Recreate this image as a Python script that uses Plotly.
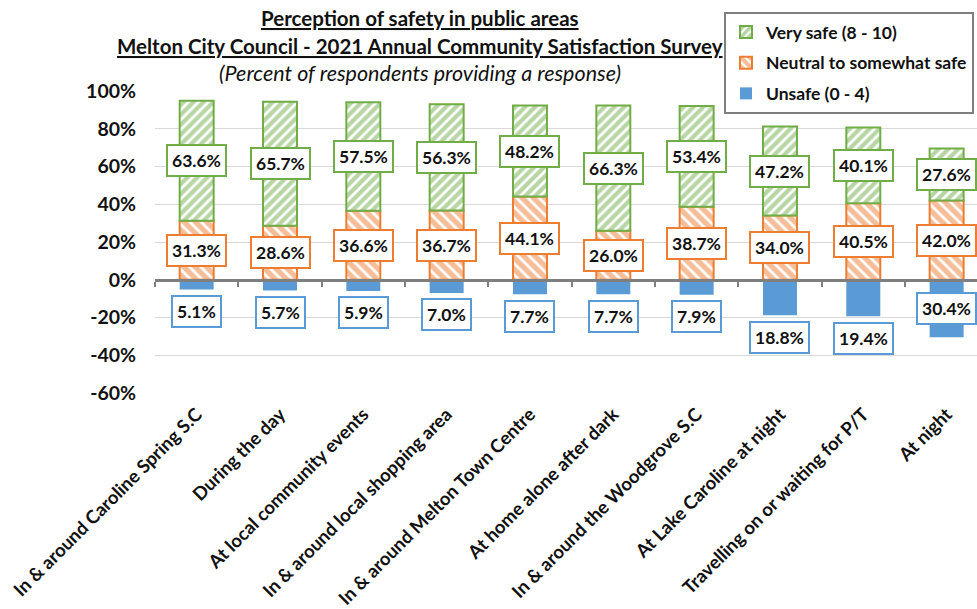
import plotly.graph_objects as go

categories = [
    "In & around Caroline Spring S.C",
    "During the day",
    "At local community events",
    "In & around local shopping area",
    "In & around Melton Town Centre",
    "At home alone after dark",
    "In & around the Woodgrove S.C",
    "At Lake Caroline at night",
    "Travelling on or waiting for P/T",
    "At night",
]
very_safe = [63.6, 65.7, 57.5, 56.3, 48.2, 66.3, 53.4, 47.2, 40.1, 27.6]
neutral = [31.3, 28.6, 36.6, 36.7, 44.1, 26.0, 38.7, 34.0, 40.5, 42.0]
unsafe = [5.1, 5.7, 5.9, 7.0, 7.7, 7.7, 7.9, 18.8, 19.4, 30.4]
y_ticks = [-60, -40, -20, 0, 20, 40, 60, 80, 100]

GREEN = "#70AD47"
ORANGE = "#ED7D31"
BLUE = "#5B9BD5"
FONT = "Lato"

W, H = 977, 609
L, T, B = 155, 91, 216
plot_w = W - L
plot_h = H - T - B
band = 83.33
x_hi = -0.5 + plot_w / band

fig = go.Figure()
fig.add_trace(go.Bar(
    x=categories, y=[-v for v in unsafe], name="<b>Unsafe (0 - 4)</b>",
    marker=dict(color=BLUE, line=dict(width=0)), legendrank=3, legendgroup="c",
))
fig.add_trace(go.Bar(
    x=categories, y=neutral, name="<b>Neutral to somewhat safe</b>",
    marker=dict(color="white", line=dict(color=ORANGE, width=2),
                pattern=dict(shape="\\", fgcolor=ORANGE, bgcolor="white",
                             size=8, solidity=0.65, fillmode="overlay")),
    legendrank=2, legendgroup="b",
))
fig.add_trace(go.Bar(
    x=categories, y=very_safe, name="<b>Very safe (8 - 10)</b>",
    marker=dict(color="white", line=dict(color=GREEN, width=2),
                pattern=dict(shape="/", fgcolor=GREEN, bgcolor="white",
                             size=7, solidity=0.6, fillmode="overlay")),
    legendrank=1, legendgroup="a",
))
# helper trace carrying the zero-line axis with boundary ticks
fig.add_trace(go.Scatter(
    x=categories, y=[0] * len(categories), xaxis="x2", mode="markers",
    marker=dict(size=0.1, opacity=0), showlegend=False, hoverinfo="skip",
))

annotations = []
lab_font = dict(family=FONT, size=17.5, color="#111")


def box(x, y, val, color, yshift=0):
    return dict(x=x, y=y, yshift=yshift, text="<b>%.1f%%</b>" % val, showarrow=False,
                bgcolor="white", bordercolor=color, borderwidth=2, borderpad=4,
                font=lab_font)


for c, n, v in zip(categories, neutral, very_safe):
    annotations.append(box(c, n / 2, n, ORANGE))
    annotations.append(box(c, n + v / 2, v, GREEN))
for c, u in zip(categories, unsafe):
    if u > 25:
        annotations.append(box(c, -u / 2, u, BLUE))
    else:
        annotations.append(box(c, -u, u, BLUE, yshift=-22))

title_lines = [
    ("<b><u>Perception of safety in public areas</u></b>", 18, 20.5),
    ("<b><u>Melton City Council - 2021 Annual Community Satisfaction Survey</u></b>", 46, 20.5),
    ("<i>(Percent of respondents providing a response)</i>", 73, 21.5),
]
cx = (420 - L) / plot_w
for txt, yc, fs in title_lines:
    annotations.append(dict(xref="paper", yref="paper", x=cx, y=1 + (T - yc) / plot_h,
                            text=txt, showarrow=False, xanchor="center", yanchor="middle",
                            font=dict(family=FONT, size=fs, color="#111")))

fig.update_layout(
    width=W, height=H,
    margin=dict(l=L, r=0, t=T, b=B, autoexpand=False),
    paper_bgcolor="white", plot_bgcolor="white",
    barmode="relative", bargap=0.592,
    font=dict(family=FONT, color="#111"),
    annotations=annotations,
    showlegend=True,
    legend=dict(
        xref="container", yref="container", x=724 / W, y=1 - 12 / H,
        xanchor="left", yanchor="top",
        traceorder="grouped", tracegroupgap=5,
        bordercolor="#7F7F7F", borderwidth=2, bgcolor="white",
        font=dict(family=FONT, size=17.5, color="#111"),
        itemwidth=30,
    ),
    xaxis=dict(
        type="category", categoryorder="array", categoryarray=categories,
        range=[-0.5, x_hi], showgrid=False, showline=False, ticks="",
        tickangle=-45, tickfont=dict(family=FONT, size=18.5, color="#111", weight="bold"),
        ticklabelstandoff=6,
    ),
    xaxis2=dict(
        type="category", categoryorder="array", categoryarray=categories,
        range=[-0.5, x_hi], overlaying="x", anchor="free", position=60 / 160,
        side="bottom", showline=True, linecolor="#7F7F7F", linewidth=3,
        ticks="outside", tickson="boundaries", ticklen=5, tickwidth=2,
        tickcolor="#7F7F7F", showticklabels=False, showgrid=False,
    ),
    yaxis=dict(
        range=[-60, 100], tickvals=y_ticks, ticktext=["%d%%" % v for v in y_ticks],
        showgrid=True, gridcolor="#D9D9D9", gridwidth=1,
        zeroline=False, showline=False,
        tickfont=dict(family=FONT, size=19.5, color="#111", weight="bold"),
        ticklabelstandoff=18,
    ),
)

fig.write_html("out.html", config={"displayModeBar": False},
               post_script="document.body.style.margin='0';")
